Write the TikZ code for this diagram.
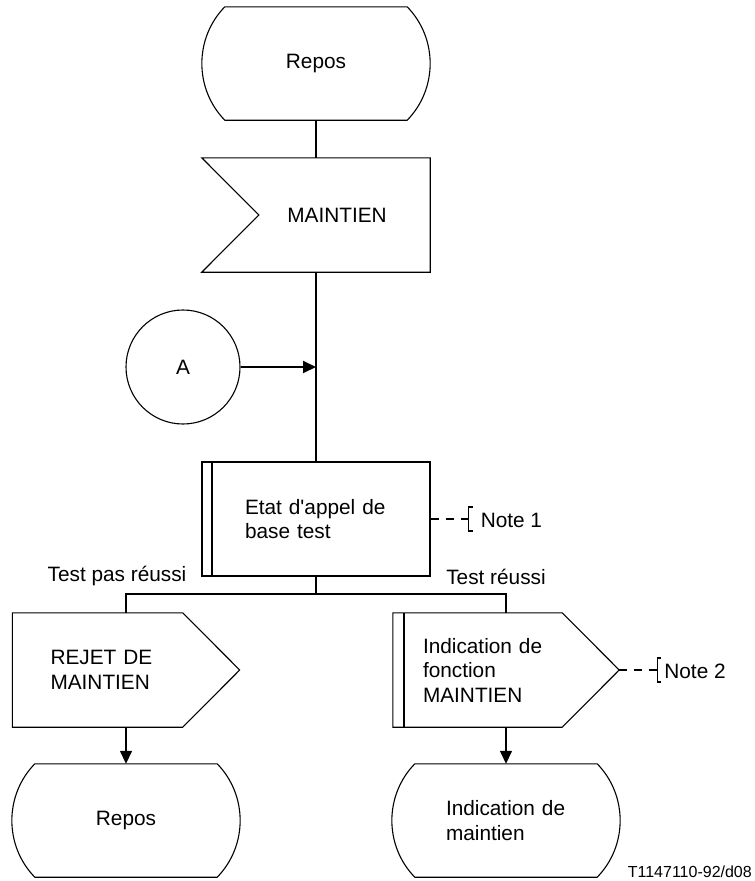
\documentclass[tikz,border=0pt]{standalone}
\usepackage{fontspec}
\setmainfont{Liberation Sans}[Ligatures=TeXOff]
\usetikzlibrary{calc,arrows.meta}

% SDL state symbol: flat top and bottom, bulging sides
\newcommand\drawstate[1]{%
  \draw[outline] ($(#1.north west)+(23,0)$) -- ($(#1.north east)+(-23,0)$)
    .. controls ($(#1.north east)+(7.6,31.4)$) and ($(#1.south east)+(7.6,-31.4)$)
    .. ($(#1.south east)+(-23,0)$)
    -- ($(#1.south west)+(23,0)$)
    .. controls ($(#1.south west)+(-7.6,-31.4)$) and ($(#1.north west)+(-7.6,31.4)$)
    .. cycle;}
% input signal: rectangle with a notch on the left
\newcommand\drawinput[1]{%
  \draw[outline] (#1.north west) -- (#1.north east) -- (#1.south east)
    -- (#1.south west) -- ($(#1.west)+(57,0)$) -- cycle;}
% output signal: rectangle with a point on the right
\newcommand\drawoutput[1]{%
  \draw[outline] (#1.north west) -- ($(#1.north east)+(-57,0)$) -- (#1.east)
    -- ($(#1.south east)+(-57,0)$) -- (#1.south west) -- cycle;}
% comment bracket with its dashed lead
\newcommand\drawnote[2]{%
  \coordinate (#2) at ($(#1.east)+(38,0)$);
  \draw[outline, notedash] (#1.east) -- (#2);
  \draw[outline] ($(#2)+(4,-12)$) -| ($(#2)+(0,12)$) -- ++(4,0);}

\tikzset{
  outline/.style={line width=1.1pt},
  flow/.style={line width=1.9pt},
  branch/.style={line width=1.4pt},
  notedash/.style={dash pattern=on 8pt off 7pt},
  tip/.style={-{Triangle[length=13pt,width=12pt]}},
  shapebox/.style={minimum width=228pt, minimum height=114pt, inner sep=0pt, align=left},
  txt/.style={inner sep=0pt},
}

\begin{document}
\begin{tikzpicture}[x=1pt, y=-1pt, font=\fontsize{20.8}{24.5}\selectfont]
\useasboundingbox (0,0) rectangle (755,881);

% main column
\node[shapebox, minimum height=113pt] (rep1) at (316,63.5) {Repos};
\drawstate{rep1}
\node[shapebox] (recv) at (316,215) {\hspace*{42pt}MAINTIEN};
\drawinput{recv}
\node[circle, draw, outline, minimum size=114pt, inner sep=0pt] (A) at (183,367) {A};
\node[shapebox, draw, outline, text width=142pt] (proc) at (316,519) {Etat d'appel de\\base test};
\draw[line width=2pt] ($(proc.north west)+(11,0)$) -- ($(proc.south west)+(11,0)$);

% branches
\node[shapebox, minimum width=227pt, text width=151pt] (rej) at (126,670) {REJET DE\\MAINTIEN};
\drawoutput{rej}
\node[shapebox, minimum width=226pt, text width=166pt] (ind) at (506,670) {Indication de\\fonction\\MAINTIEN};
\drawoutput{ind}
\draw[line width=2pt] ($(ind.north west)+(11,0)$) -- ($(ind.south west)+(11,0)$);
\node[shapebox, minimum height=113pt] (rep2) at (126,820.5) {Repos};
\drawstate{rep2}
\node[shapebox, minimum height=113pt, text width=120pt] (indm) at (506,820.5) {Indication de\\maintien};
\drawstate{indm}

% connectors
\coordinate (jA) at (316,367);
\coordinate (split) at (316,594);
\draw[flow] (rep1.south) -- (recv.north);
\draw[flow] (recv.south) -- (proc.north);
\draw[flow, tip] (A.east) -- (jA);
\draw[branch] (proc.south) -- (split) -| (rej.north);
\draw[branch] (split) -| (ind.north);
\draw[branch, tip] (rej.south) -- (rep2.north);
\draw[branch, tip] (ind.south) -- (indm.north);

% branch labels
\node[txt] (tfail) at (117,576) {Test pas réussi};
\node[txt] (tok) at (496,577) {Test réussi};

% comments
\drawnote{proc}{n1}
\node[txt, anchor=west] (note1) at ($(n1)+(12,1)$) {Note 1};
\drawnote{ind}{n2}
\node[txt, anchor=west] (note2) at ($(n2)+(7,1)$) {Note 2};

% figure reference
\node[txt, anchor=east, font=\fontsize{16}{19}\selectfont] (figref) at (752,872) {T1147110-92/d08};
\end{tikzpicture}
\end{document}
